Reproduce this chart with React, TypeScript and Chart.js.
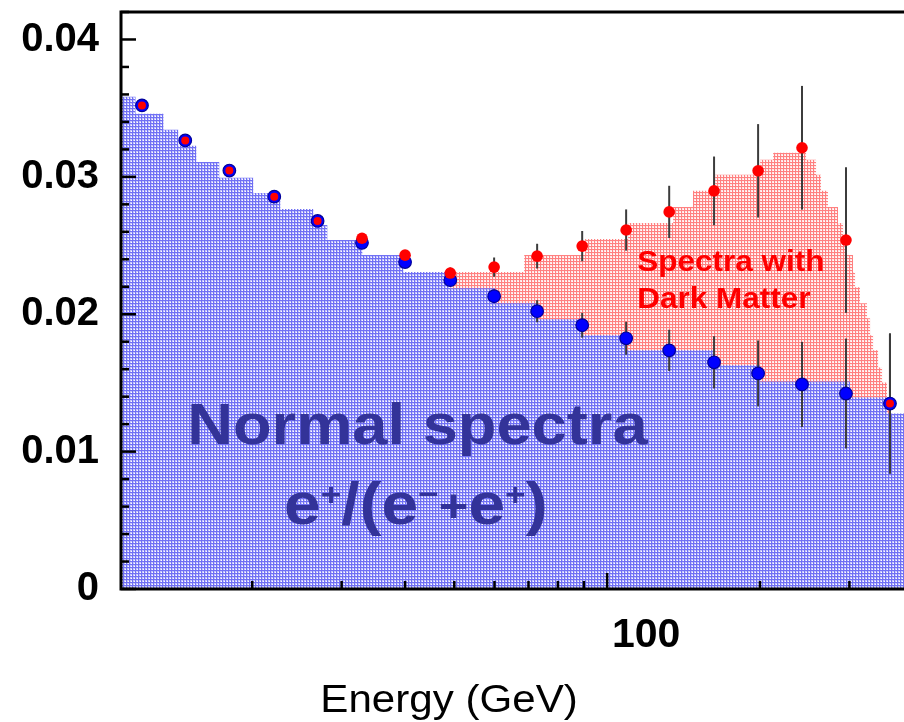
import React, { useEffect, useRef } from 'react';
import Chart from 'chart.js/auto';

// ---- data ----
const pointEnergy = [12.13, 14.76, 18.03, 22.1, 26.9, 32.9, 40.0, 49.1, 59.9, 72.8, 89.3, 109, 132.5, 162.4, 198.3, 242, 295.4, 360.6];
const normalRatio = [0.0352, 0.03265, 0.03046, 0.02856, 0.02679, 0.0252, 0.0238, 0.02248, 0.02131, 0.02022, 0.0192, 0.01825, 0.01737, 0.0165, 0.01569, 0.01489, 0.01423, 0.0135];
const normalErr = [0, 0, 0, 0, 0, 0.0002, 0.0003, 0.0004, 0.0005, 0.0008, 0.0009, 0.0012, 0.0015, 0.0019, 0.0024, 0.0031, 0.004, 0.0051];
const darkRatio = [0.0352, 0.03265, 0.03046, 0.02856, 0.02679, 0.02553, 0.0243, 0.023, 0.02343, 0.02423, 0.02496, 0.02613, 0.02745, 0.02898, 0.03044, 0.03212, 0.0254, 0.0135];
const darkErr = [0, 0, 0, 0, 0, 0.0002, 0.0003, 0.0004, 0.0007, 0.0009, 0.0011, 0.0015, 0.0019, 0.0025, 0.0034, 0.0045, 0.0053, 0.0051];

const normalBinEdges = [11.03, 11.78, 13.37, 14.3, 15.52, 17.22, 20.09, 22.72, 26.38, 28.11, 32.95, 39.67, 49.09, 60.18, 73.13, 89.7, 109.0, 163.2, 200.1, 300.8, 355.8, 400];
const normalBinValues = [0.03584, 0.0346, 0.03343, 0.03226, 0.03109, 0.02993, 0.02883, 0.02766, 0.0265, 0.0254, 0.02431, 0.02307, 0.0219, 0.0208, 0.01964, 0.01847, 0.01737, 0.01628, 0.01511, 0.01394, 0.01277];

const darkBinEdges = [49.09, 68.66, 90.5, 110.0, 134.9, 147.6, 163.2, 200.1, 212.3, 246.5, 257.9, 263.8, 272.3, 284.9, 291.5, 296.8, 305.0, 307.8, 314.8, 325.0, 329.5, 334.0, 341.7, 347.9, 355.8, 360.7];
const darkBinValues = [0.02307, 0.02431, 0.02547, 0.02664, 0.02781, 0.02898, 0.03015, 0.03124, 0.03175, 0.03124, 0.03015, 0.02898, 0.02781, 0.02664, 0.02547, 0.02431, 0.02307, 0.02197, 0.0208, 0.01971, 0.01847, 0.01737, 0.01613, 0.01504, 0.01394];

const xMin = 11.03;
const xMax = 384.3;
const yMin = 0;
const yMax = 0.042;
const yMajorTicks = [0, 0.01, 0.02, 0.03, 0.04];
const yMinorTicks = [0.002, 0.004, 0.006, 0.008, 0.012, 0.014, 0.016, 0.018, 0.022, 0.024, 0.026, 0.028, 0.032, 0.034, 0.036, 0.038, 0.042];
const xMajorTicks = [100];
const xMinorTicks = [20, 30, 40, 50, 60, 70, 80, 90, 200, 300];
const xTickLabels = ['100'];

const xTitle = 'Energy (GeV)';
const normalLabel = 'Normal spectra';
const darkLabel1 = 'Spectra with';
const darkLabel2 = 'Dark Matter';
// label anchors in data units
const normalLabelPos = { x: 42.3, y: 0.01058 };
const formulaPos = { x: 42.0, y: 0.00474 };
const darkLabelPos = { x: 114.6, y1: 0.02314, y2: 0.02044 };

const FONT = '"Liberation Sans", Arial, Helvetica, sans-serif';

function stepPoints(edges: number[], values: number[]) {
  const pts = values.map((v, i) => ({ x: edges[i], y: v }));
  pts.push({ x: edges[edges.length - 1], y: values[values.length - 1] });
  return pts;
}

function makePattern(line: string, bg: string, dot: string): CanvasPattern | string {
  const c = document.createElement('canvas');
  c.width = 3;
  c.height = 3;
  const g = c.getContext('2d');
  if (!g) return bg;
  g.fillStyle = bg;
  g.fillRect(0, 0, 3, 3);
  g.fillStyle = dot;
  g.fillRect(2, 2, 1, 1);
  g.fillStyle = line;
  g.fillRect(0, 0, 3, 1);
  g.fillRect(0, 0, 1, 3);
  const p = g.createPattern(c, 'repeat');
  return p || bg;
}

const errorBarPlugin = {
  id: 'errorBars',
  beforeDatasetDraw(chart: any, args: any) {
    if (args.index !== 1) return;
    const { ctx, chartArea } = chart;
    const xs = chart.scales.x;
    const ys = chart.scales.y;
    ctx.save();
    ctx.beginPath();
    ctx.rect(chartArea.left, chartArea.top, chartArea.right - chartArea.left, chartArea.bottom - chartArea.top);
    ctx.clip();
    ctx.strokeStyle = '#3c3c3c';
    ctx.lineWidth = 2;
    const draw = (vals: number[], errs: number[]) => {
      vals.forEach((v, i) => {
        if (!errs[i]) return;
        const px = xs.getPixelForValue(pointEnergy[i]);
        ctx.beginPath();
        ctx.moveTo(px, ys.getPixelForValue(v - errs[i]));
        ctx.lineTo(px, ys.getPixelForValue(v + errs[i]));
        ctx.stroke();
      });
    };
    draw(normalRatio, normalErr);
    draw(darkRatio, darkErr);
    ctx.restore();
  },
};

const decorPlugin = {
  id: 'decor',
  afterDraw(chart: any) {
    const { ctx, chartArea } = chart;
    const xs = chart.scales.x;
    const ys = chart.scales.y;
    const { left, right, top, bottom } = chartArea;
    ctx.save();

    // annotations
    ctx.fillStyle = '#333399';
    ctx.textBaseline = 'alphabetic';
    ctx.textAlign = 'center';
    ctx.font = `bold 58px ${FONT}`;
    ctx.save();
    ctx.translate(xs.getPixelForValue(normalLabelPos.x), ys.getPixelForValue(normalLabelPos.y));
    ctx.scale(1.09, 1);
    ctx.fillText(normalLabel, 0, 0);
    ctx.restore();

    // formula e+/(e-+e+)
    const pieces = [
      { t: 'e', s: 60, r: 0 },
      { t: '+', s: 32, r: 19 },
      { t: '/(', s: 60, r: 0 },
      { t: 'e', s: 60, r: 0 },
      { t: '\u2212', s: 32, r: 19 },
      { t: '+', s: 46, r: 2 },
      { t: 'e', s: 60, r: 0 },
      { t: '+', s: 32, r: 19 },
      { t: ')', s: 60, r: 0 },
    ];
    ctx.textAlign = 'left';
    let total = 0;
    const widths = pieces.map((p) => {
      ctx.font = `bold ${p.s}px ${FONT}`;
      const w = ctx.measureText(p.t).width;
      total += w;
      return w;
    });
    ctx.save();
    ctx.translate(xs.getPixelForValue(formulaPos.x), ys.getPixelForValue(formulaPos.y));
    ctx.scale(1.1, 1);
    let cx = -total / 2;
    pieces.forEach((p, i) => {
      ctx.font = `bold ${p.s}px ${FONT}`;
      ctx.fillText(p.t, cx, -p.r);
      cx += widths[i];
    });
    ctx.restore();

    ctx.fillStyle = '#ff0000';
    ctx.font = `bold 30px ${FONT}`;
    ctx.textAlign = 'left';
    const dx = xs.getPixelForValue(darkLabelPos.x);
    ctx.save();
    ctx.translate(dx, ys.getPixelForValue(darkLabelPos.y1));
    ctx.scale(1.05, 1);
    ctx.fillText(darkLabel1, 0, 0);
    ctx.restore();
    ctx.save();
    ctx.translate(dx, ys.getPixelForValue(darkLabelPos.y2));
    ctx.scale(1.05, 1);
    ctx.fillText(darkLabel2, 0, 0);
    ctx.restore();

    // ticks (inward)
    ctx.strokeStyle = '#000';
    ctx.lineWidth = 2.5;
    const yTick = (v: number, len: number) => {
      const py = ys.getPixelForValue(v);
      ctx.beginPath();
      ctx.moveTo(left, py);
      ctx.lineTo(left + len, py);
      ctx.stroke();
    };
    yMajorTicks.forEach((v) => yTick(v, 15));
    yMinorTicks.forEach((v) => yTick(v, 8));
    const xTick = (v: number, len: number) => {
      const px = xs.getPixelForValue(v);
      ctx.beginPath();
      ctx.moveTo(px, bottom);
      ctx.lineTo(px, bottom - len);
      ctx.stroke();
    };
    xMajorTicks.forEach((v) => xTick(v, 16));
    xMinorTicks.forEach((v) => xTick(v, 8));

    // frame
    ctx.lineWidth = 3;
    ctx.beginPath();
    ctx.moveTo(right + 2, top);
    ctx.lineTo(left, top);
    ctx.lineTo(left, bottom);
    ctx.lineTo(right + 2, bottom);
    ctx.stroke();

    // x title
    ctx.fillStyle = '#000';
    ctx.font = `39px ${FONT}`;
    ctx.textAlign = 'center';
    ctx.save();
    ctx.translate(left + (right - left) * 0.419, bottom + 123);
    ctx.scale(1.08, 1);
    ctx.fillText(xTitle, 0, 0);
    ctx.restore();

    ctx.restore();
  },
};

export default function App() {
  const ref = useRef<HTMLCanvasElement | null>(null);

  useEffect(() => {
    const canvas = ref.current;
    if (!canvas) return;
    const bluePattern = makePattern('#7070f4', '#c6c6fb', '#ffffff');
    const redPattern = makePattern('#ff8080', '#ffe6e6', '#ffffff');

    const chart = new Chart(canvas, {
      type: 'scatter',
      data: {
        datasets: [
          {
            label: 'dark points',
            data: pointEnergy.map((x, i) => ({ x, y: darkRatio[i] })),
            backgroundColor: '#ff0000',
            borderColor: '#dd0000',
            borderWidth: 0,
            pointRadius: (c: any) => (darkRatio[c.dataIndex] === normalRatio[c.dataIndex] ? 4 : 5.8),
            showLine: false,
          },
          {
            label: 'normal points',
            data: pointEnergy.map((x, i) => ({ x, y: normalRatio[i] })),
            backgroundColor: '#0000ff',
            borderColor: '#00009a',
            borderWidth: 1.2,
            pointRadius: 6.3,
            showLine: false,
          },
          {
            label: 'normal spectrum',
            data: stepPoints(normalBinEdges, normalBinValues),
            showLine: true,
            stepped: true,
            fill: 'origin',
            backgroundColor: bluePattern as any,
            borderWidth: 0,
            borderColor: 'rgba(0,0,0,0)',
            pointRadius: 0,
          },
          {
            label: 'dark spectrum',
            data: stepPoints(darkBinEdges, darkBinValues),
            showLine: true,
            stepped: true,
            fill: 'origin',
            backgroundColor: redPattern as any,
            borderWidth: 0,
            borderColor: 'rgba(0,0,0,0)',
            pointRadius: 0,
          },
        ],
      },
      options: {
        responsive: false,
        animation: false,
        events: [],
        layout: { autoPadding: false, padding: { top: 12, right: 0, left: 0, bottom: 0 } },
        plugins: { legend: { display: false }, tooltip: { enabled: false } },
        scales: {
          x: {
            type: 'logarithmic',
            min: xMin,
            max: xMax,
            border: { display: false },
            grid: { display: false, drawTicks: false },
            afterBuildTicks: (scale: any) => {
              scale.ticks = xMajorTicks.map((v) => ({ value: v }));
            },
            afterFit: (scale: any) => {
              scale.height = 133;
              scale.paddingLeft = 0;
              scale.paddingRight = 0;
            },
            ticks: {
              autoSkip: false,
              maxRotation: 0,
              minRotation: 0,
              padding: 22,
              labelOffset: 39,
              color: '#000',
              font: { family: FONT, size: 41, weight: 'bold' },
              callback: (v: any, i: number) => xTickLabels[i] ?? '',
            },
          },
          y: {
            type: 'linear',
            min: yMin,
            max: yMax,
            border: { display: false },
            grid: { display: false, drawTicks: false },
            afterBuildTicks: (scale: any) => {
              scale.ticks = yMajorTicks.map((v) => ({ value: v }));
            },
            afterFit: (scale: any) => {
              scale.width = 121;
              scale.paddingTop = 0;
              scale.paddingBottom = 0;
            },
            ticks: {
              padding: 22,
              color: '#000',
              font: { family: FONT, size: 40, weight: 'bold' },
              callback: (v: any) => (Number(v) === 0 ? '0' : Number(v).toFixed(2)),
            },
          },
        },
      },
      plugins: [errorBarPlugin, decorPlugin],
    } as any);

    return () => chart.destroy();
  }, []);

  return (
    <div style={{ position: 'absolute', left: 0, top: 0, width: 904, height: 722, background: '#fff' }}>
      <canvas ref={ref} width={904} height={722} style={{ display: 'block' }} />
    </div>
  );
}
